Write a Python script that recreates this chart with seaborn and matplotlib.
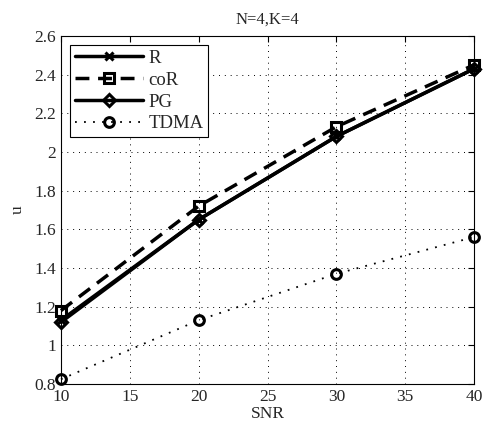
import matplotlib
matplotlib.use('Agg')
import matplotlib.pyplot as plt
import seaborn as sns
import pandas as pd

# data
snr = [10, 20, 30, 40]
u_R = [1.13, 1.65, 2.08, 2.43]
u_coR = [1.18, 1.72, 2.13, 2.45]
u_PG = [1.12, 1.65, 2.08, 2.43]
u_TDMA = [0.825, 1.13, 1.37, 1.56]

sns.set_style('white')
plt.rcParams['font.family'] = ['Liberation Serif', 'DejaVu Serif']

fig = plt.figure(figsize=(4.86, 4.32), dpi=100)
ax = fig.add_axes([0.1255, 0.111, 0.85, 0.806])

series = [('R', u_R, '-', 'x', 'k', 6, 2.5),
          ('coR', u_coR, (0, (4, 2.5)), 's', 'none', 6.5, 2.5),
          ('PG', u_PG, '-', 'D', 'none', 6, 2.5),
          ('TDMA', u_TDMA, (0, (1, 4)), 'o', 'none', 7, 1.3)]

for name, vals, ls, mk, fc, ms, lw in series:
    df = pd.DataFrame({'SNR': snr, 'u': vals})
    sns.lineplot(data=df, x='SNR', y='u', ax=ax, color='black', linestyle=ls,
                 linewidth=lw, marker=mk, markersize=ms, markerfacecolor=fc,
                 markeredgecolor='black', markeredgewidth=2.2, label=name,
                 clip_on=False, zorder=3)

ax.set_xlim(10, 40)
ax.set_ylim(0.8, 2.6)
ax.set_xticks([10, 15, 20, 25, 30, 35, 40])
ax.set_yticks([0.8, 1, 1.2, 1.4, 1.6, 1.8, 2, 2.2, 2.4, 2.6])
ax.set_yticklabels(['0.8', '1', '1.2', '1.4', '1.6', '1.8', '2', '2.2', '2.4', '2.6'])
ax.tick_params(direction='in', top=True, right=True, labelsize=12.5, length=4, color='black')
ax.grid(True, linestyle=(0, (1, 5)), color='black', linewidth=0.7)
for s in ax.spines.values():
    s.set_color('black')
    s.set_linewidth(0.8)

ax.set_title('N=4,K=4', fontsize=12, pad=9)
ax.set_xlabel('SNR', fontsize=12.5, labelpad=1)
ax.set_ylabel('u', fontsize=12.5, labelpad=6)

leg = ax.legend(loc='upper left', fontsize=13.5, frameon=True, fancybox=False,
                edgecolor='black', handlelength=3.6, borderpad=0.25,
                labelspacing=0.25, handletextpad=0.3, borderaxespad=0.5,
                framealpha=1)
leg.get_frame().set_linewidth(0.8)

plt.savefig('out.png', dpi=100)
